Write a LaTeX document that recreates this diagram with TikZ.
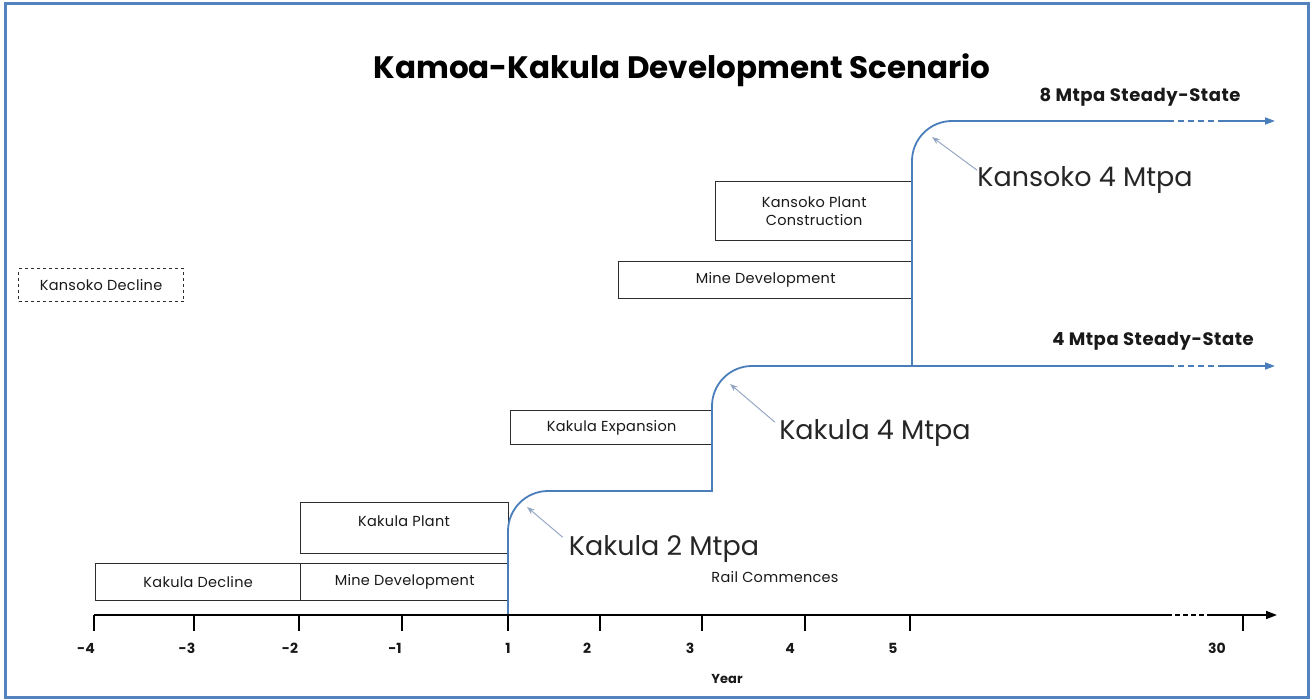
\documentclass[tikz,border=0pt]{standalone}
\usepackage{fontspec}
\setmainfont{Poppins}
\usetikzlibrary{arrows.meta}
\definecolor{frameblue}{RGB}{84,130,190}
\definecolor{stepblue}{RGB}{74,126,187}
\definecolor{notegray}{RGB}{150,168,196}
\definecolor{boxline}{RGB}{45,45,45}
\definecolor{txt}{RGB}{25,25,25}
\newcommand{\boxfont}{\fontsize{14.5}{18}\selectfont\addfontfeatures{LetterSpace=2}}
\begin{document}
\begin{tikzpicture}[x=1pt,y=-1pt,
  phase/.style={draw=boxline, line width=1.3pt, fill=white, inner sep=0pt, anchor=north west,
    font=\boxfont, text=txt, align=center},
  boxtext/.style={font=\boxfont, text=txt, inner sep=0pt},
  stepline/.style={draw=stepblue, line width=1.8pt},
  tipblue/.style={-{Triangle[length=10pt,width=7pt]}},
  axisline/.style={draw=black, line width=1.6pt},
  tick/.style={draw=black, line width=1.3pt},
  ticklbl/.style={font=\bfseries\fontsize{14}{16}\selectfont, text=txt, inner sep=0pt},
  big/.style={font=\fontsize{27}{30}\selectfont, text=black!85, inner sep=0pt},
  steady/.style={font=\bfseries\fontsize{18}{20}\selectfont\addfontfeatures{LetterSpace=3}, text=txt, inner sep=0pt},
  note/.style={draw=notegray, line width=1pt, -{Stealth[length=8pt,width=6pt,fill=stepblue]}},
]
\useasboundingbox (0,0) rectangle (1312,700);
\draw[draw=frameblue, line width=3pt] (5,4) rectangle (1308,697);

% title
\node[font=\bfseries\fontsize{31}{36}\selectfont, text=black, inner sep=0pt] (title) at (682,70) {Kamoa-Kakula Development Scenario};

% phase boxes
\node[phase, minimum width=205pt, minimum height=37pt] (kdec) at (95,563) {Kakula Decline};
\node[phase, minimum width=208pt, minimum height=37pt] (mdev1) at (300,563) {Mine Development};
\node[phase, minimum width=208pt, minimum height=51pt] (kplant) at (300,502) {};
\node[boxtext] (kplanttxt) at (404,521) {Kakula Plant};
\node[phase, minimum width=202pt, minimum height=34pt] (kexp) at (510,410) {Kakula Expansion};
\node[phase, minimum width=294pt, minimum height=37pt] (mdev2) at (618,261) {Mine Development};
\node[phase, minimum width=197pt, minimum height=59pt] (kpc) at (715,181) {Kansoko Plant\\Construction};
\node[phase, dashed, line width=1.1pt, minimum width=165pt, minimum height=33pt] (kdecl) at (18,268) {Kansoko Decline};

% step path
\coordinate (s0) at (508,615);
\coordinate (s1) at (508,531);
\coordinate (s2) at (548,491);
\coordinate (s3) at (712,491);
\coordinate (s4) at (712,406);
\coordinate (s5) at (752,366);
\coordinate (s6) at (1168,366);
\coordinate (s7) at (1222,366);
\coordinate (s8) at (1275,366);
\coordinate (u0) at (912,366);
\coordinate (u1) at (912,161);
\coordinate (u2) at (952,121);
\coordinate (u3) at (1168,121);
\coordinate (u4) at (1222,121);
\coordinate (u5) at (1275,121);
\draw[stepline] (s0) -- (s1) .. controls (508,509) and (526,491) .. (s2) -- (s3) -- (s4)
  .. controls (712,384) and (730,366) .. (s5) -- (s6);
\draw[stepline, dashed, dash pattern=on 6pt off 4pt] (s6) -- (s7);
\draw[stepline, tipblue] (s7) -- (s8);
\draw[stepline] (u0) -- (u1) .. controls (912,139) and (930,121) .. (u2) -- (u3);
\draw[stepline, dashed, dash pattern=on 6pt off 4pt] (u3) -- (u4);
\draw[stepline, tipblue] (u4) -- (u5);

% steady-state labels
\node[steady] (ss8) at (1140,97) {8 Mtpa Steady-State};
\node[steady] (ss4) at (1153,341) {4 Mtpa Steady-State};

% milestone annotations
\node[big] (k2) at (664,549) {Kakula 2 Mtpa};
\node[big] (k4) at (875,433) {Kakula 4 Mtpa};
\node[big] (ks4) at (1085,180) {Kansoko 4 Mtpa};
\coordinate (k2tip) at (527,507);
\coordinate (k4tip) at (730,384);
\coordinate (ks4tip) at (932,137);
\draw[note] ([xshift=-6pt,yshift=-2pt]k2.north west) -- (k2tip);
\draw[note] ([xshift=-4pt,yshift=-3pt]k4.north west) -- (k4tip);
\draw[note] ([xshift=0pt,yshift=-4pt]ks4.north west) -- (ks4tip);

\node[boxtext] (rail) at (775,577) {Rail Commences};

% axis
\coordinate (a0) at (94,615);
\coordinate (a1) at (1167,615);
\coordinate (a2) at (1212,615);
\coordinate (a3) at (1277,615);
\draw[axisline] (a0) -- (a1);
\draw[axisline, dashed, dash pattern=on 5pt off 3pt] (a1) -- (a2);
\draw[axisline, -{Triangle[length=11pt,width=8pt]}] (a2) -- (a3);
\foreach \tx/\lx/\lab/\nm in {94/86/-4/m4, 194/187/-3/m3, 299/290/-2/m2, 402/395/-1/m1, 508/508/1/p1, 600/587/2/p2, 702/690/3/p3, 805/790/4/p4, 910/893/5/p5, 1243/1217/30/p30}{
  \coordinate (t\nm) at (\tx,615);
  \coordinate (b\nm) at (\tx,631);
  \draw[tick] (t\nm) -- (b\nm);
  \node[ticklbl] (l\nm) at (\lx,648) {\lab};
}
\node[ticklbl, font=\bfseries\fontsize{13}{16}\selectfont] (year) at (727,679) {Year};
\end{tikzpicture}
\end{document}
